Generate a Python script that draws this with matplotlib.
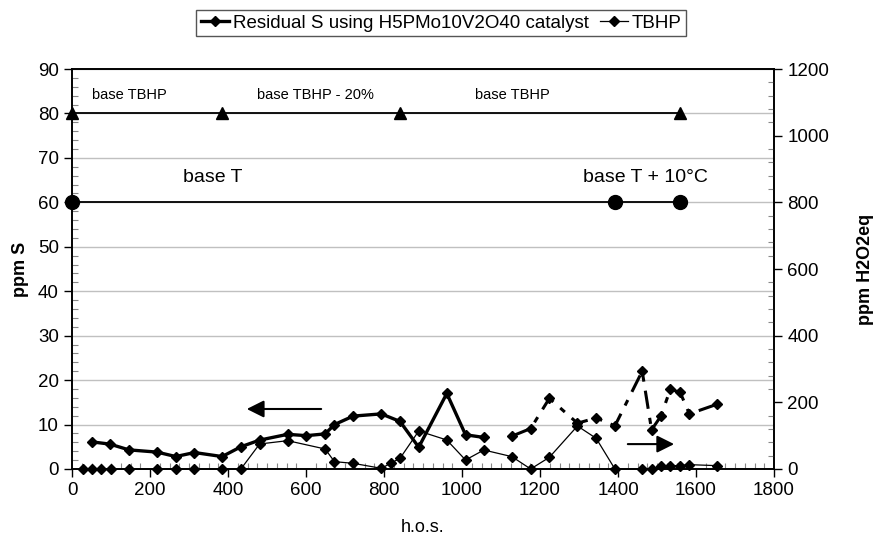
import numpy as np
import matplotlib.pyplot as plt
from matplotlib.lines import Line2D

plt.rcParams['font.family'] = ['Liberation Sans', 'DejaVu Sans']

#Residual S (left axis, ppm S)
s_x = [51, 97, 146, 218, 266, 314, 385, 433, 481, 553, 601, 649, 673, 721, 793, 841, 889, 961, 1009, 1056]
s_y = [6.1, 5.6, 4.3, 3.8, 2.8, 3.7, 2.8, 5.0, 6.5, 7.8, 7.5, 7.9, 10.0, 11.9, 12.4, 10.7, 4.9, 17.0, 7.7, 7.1]
#Residual S after 1100 h (dashed part)
s2_x = [1128, 1176, 1224, 1296, 1344, 1392, 1462, 1486, 1510, 1534, 1559, 1583, 1655]
s2_y = [7.4, 9.1, 15.9, 10.3, 11.5, 9.7, 22.0, 8.8, 11.9, 17.9, 17.3, 12.4, 14.6]

#TBHP (right axis, ppm H2O2eq)
t_x = [27, 51, 75, 99, 146, 218, 266, 314, 385, 433, 481, 553, 649, 673, 721, 793, 817, 841, 889,
       961, 1009, 1056, 1128, 1176, 1224, 1296, 1344, 1392, 1462, 1486, 1510, 1534, 1559, 1583, 1655]
t_y = [0, 0, 0, 0, 0, 0, 0, 0, 0, 0, 75, 85, 60, 22, 17, 2, 17, 32, 114,
       87, 27, 57, 37, 0, 35, 129, 92, 0, 0, 0, 10, 10, 10, 13, 10]

#Condition markers
tbhp_x = [0, 385, 840, 1560]
tbhp_level = 80
temp_x = [0, 1391, 1559]
temp_level = 60

fig = plt.figure(figsize=(8.74, 5.4), dpi=100)
ax = fig.add_axes([0.0824, 0.1315, 0.8032, 0.7407])
ax2 = ax.twinx()

ax.plot(tbhp_x, [tbhp_level]*len(tbhp_x), color='black', lw=1.3, marker='^', ms=9, zorder=3, clip_on=False)
ax.plot(temp_x, [temp_level]*len(temp_x), color='black', lw=1.3, marker='o', ms=10, zorder=3, clip_on=False)

ax.plot(s_x, s_y, color='black', lw=2.4, marker='D', ms=5.5, zorder=4)
ax.plot(s2_x, s2_y, color='black', lw=2.2, ls=(0, (6, 3, 2, 3)), marker='D', ms=5.5, zorder=4)
ax2.plot(t_x, t_y, color='black', lw=0.9, marker='D', ms=5.5, zorder=4, clip_on=False)

ax.text(148, 84.2, 'base TBHP', fontsize=10.5, ha='center', va='center')
ax.text(623, 84.2, 'base TBHP - 20%', fontsize=10.5, ha='center', va='center')
ax.text(1128, 84.2, 'base TBHP', fontsize=10.5, ha='center', va='center')
ax.text(360, 65.5, 'base T', fontsize=14, ha='center', va='center')
ax.text(1470, 65.5, 'base T + 10°C', fontsize=14, ha='center', va='center')

ax.annotate('', xy=(441, 13.5), xytext=(646, 13.5),
            arrowprops=dict(arrowstyle='-|>', color='black', lw=1.5, mutation_scale=26))
ax.annotate('', xy=(1551, 5.6), xytext=(1418, 5.6),
            arrowprops=dict(arrowstyle='-|>', color='black', lw=1.5, mutation_scale=26))

ax.set_xlim(0, 1800)
ax.set_ylim(0, 90)
ax2.set_ylim(0, 1200)
ax.set_xticks(np.arange(0, 1801, 200))
ax.set_xticks(np.arange(0, 1801, 25), minor=True)
ax.set_yticks(np.arange(0, 91, 10))
ax.set_yticks(np.arange(0, 91, 2), minor=True)
ax2.set_yticks(np.arange(0, 1201, 200))
ax2.set_yticks(np.arange(0, 1201, 40), minor=True)

ax.grid(axis='y', which='major', color='#c0c0c0', lw=1)
ax.set_axisbelow(True)
for a in (ax, ax2):
    a.tick_params(which='major', direction='out', length=6, width=1, labelsize=13.5)
    a.tick_params(which='minor', direction='in', length=4, width=0.8, color='#888888')
    for sp in a.spines.values():
        sp.set_linewidth(1.2)

ax.set_xlabel('h.o.s.', fontsize=13, labelpad=14)
ax.set_ylabel('ppm S', fontsize=13, fontweight='bold', labelpad=6)
ax2.set_ylabel('ppm H2O2eq', fontsize=13, fontweight='bold', labelpad=20)

handles = [Line2D([], [], color='black', lw=2.4, marker='D', ms=5.5),
           Line2D([], [], color='black', lw=0.9, marker='D', ms=5.5)]
fig.legend(handles, ['Residual S using H5PMo10V2O40 catalyst', 'TBHP'], loc='center',
           bbox_to_anchor=(0.505, 0.957), ncol=2, fontsize=13.5, frameon=True, fancybox=False,
           edgecolor='#555555', framealpha=1, handlelength=1.5, handletextpad=0.2,
           columnspacing=0.6, borderpad=0.25)

fig.savefig('out.png', dpi=100)
